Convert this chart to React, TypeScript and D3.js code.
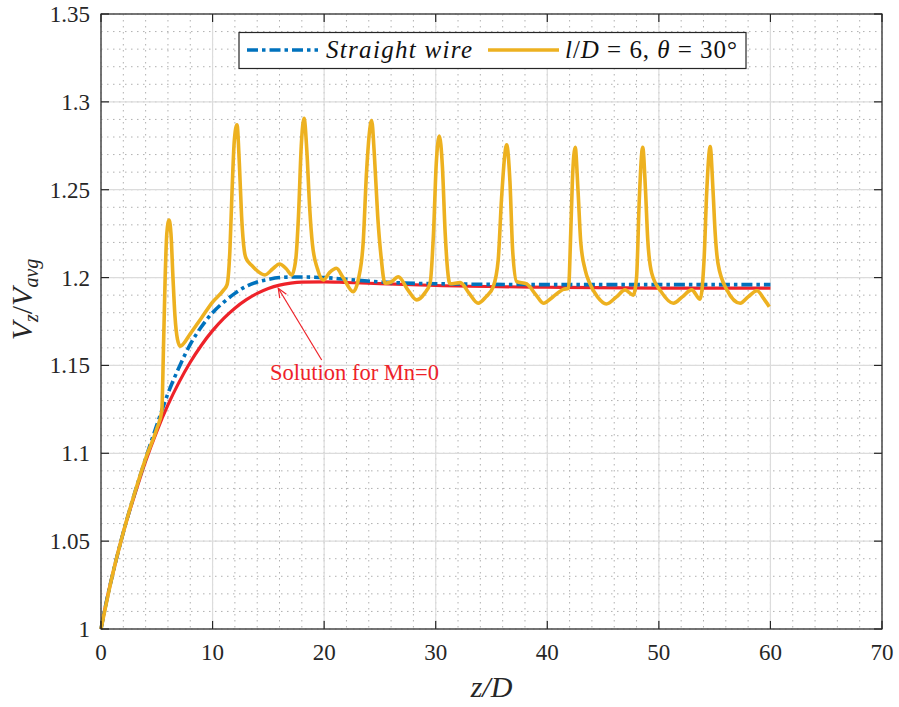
import React from 'react';
import * as d3 from 'd3';

// axis ticks
const xTicks = [0, 10, 20, 30, 40, 50, 60, 70];
const xTickLabels = ['0', '10', '20', '30', '40', '50', '60', '70'];
const yTicks = [1, 1.05, 1.1, 1.15, 1.2, 1.25, 1.3, 1.35];
const yTickLabels = ['1', '1.05', '1.1', '1.15', '1.2', '1.25', '1.3', '1.35'];

// Solution for Mn=0 (red)
const zRed = [0, 0.5, 1, 2, 3, 4, 5, 6, 7, 8, 9, 10, 11, 12, 13, 14, 15, 16, 17, 18, 20, 22, 25, 30, 40, 50, 60];
const vRed = [1.0, 1.016, 1.03, 1.055, 1.076, 1.0955, 1.1125, 1.1275, 1.1405, 1.1518, 1.1615, 1.1698, 1.1768, 1.1826, 1.1873, 1.191, 1.1938, 1.1957, 1.1968, 1.1974, 1.1976, 1.1972, 1.1965, 1.1955, 1.1945, 1.194, 1.194];

// Straight wire (blue dash-dot)
const zBlue = [0, 0.5, 1, 2, 3, 4, 5, 6, 7, 8, 9, 10, 11, 12, 13, 14, 15, 16, 17, 18, 20, 22, 25, 30, 40, 50, 60];
const vBlue = [1.0, 1.016, 1.03, 1.055, 1.077, 1.097, 1.116, 1.134, 1.149, 1.162, 1.172, 1.18, 1.186, 1.191, 1.195, 1.1975, 1.199, 1.2, 1.2003, 1.2003, 1.2, 1.199, 1.1975, 1.1965, 1.196, 1.196, 1.196];

// l/D = 6, theta = 30 deg (gold)
const zGold = [
  0, 1, 2, 3, 4, 5, 5.45, 5.6, 5.75, 5.9, 6.1, 6.27, 6.45, 6.63, 6.85, 7.1, 8, 9, 10, 11,
  11.3, 11.55, 11.75, 11.95, 12.19, 12.4, 12.6, 12.85, 13.0, 13.5, 14.7, 15.4, 16.0, 16.6, 17.1,
  17.45, 17.7, 17.95, 18.2, 18.45, 18.7, 18.95, 19.4, 19.93, 20.5, 21.1, 21.7, 22.6,
  23.1, 23.5, 23.8, 24.26, 24.5, 24.8, 25.1, 25.45, 26.0, 26.65, 27.5, 28.3, 29.0,
  29.5, 29.8, 30.05, 30.33, 30.6, 30.85, 31.28, 32.2, 33.0, 33.8, 34.5, 35.16,
  35.6, 35.9, 36.36, 36.65, 36.9, 37.26, 38.15, 39.0, 39.65, 40.5, 41.44, 41.9,
  42.1, 42.25, 42.5, 42.75, 43.0, 43.4, 43.8, 44.5, 45.3, 46.2, 46.97, 47.7,
  48.0, 48.25, 48.55, 48.8, 49.0, 49.36, 50.2, 51.3, 52.1, 52.94, 53.7,
  54.05, 54.3, 54.6, 54.85, 55.05, 55.3, 56.1, 57.3, 58.0, 58.8, 59.4, 59.9
];
const vGold = [
  1.0, 1.03, 1.055, 1.077, 1.097, 1.114, 1.124, 1.16, 1.2, 1.2252, 1.2328, 1.225, 1.2, 1.178, 1.165, 1.161, 1.168, 1.177, 1.186, 1.193,
  1.196, 1.215, 1.25, 1.278, 1.287, 1.265, 1.235, 1.215, 1.211, 1.207, 1.2015, 1.205, 1.2077, 1.205, 1.2015,
  1.21, 1.235, 1.275, 1.2907, 1.272, 1.24, 1.219, 1.205, 1.1986, 1.203, 1.2053, 1.2, 1.192,
  1.2, 1.22, 1.26, 1.2893, 1.27, 1.235, 1.212, 1.1968, 1.1975, 1.2005, 1.193, 1.1873, 1.191,
  1.197, 1.225, 1.265, 1.2806, 1.263, 1.225, 1.1965, 1.1971, 1.191, 1.1854, 1.189, 1.1949,
  1.21, 1.245, 1.2755, 1.255, 1.215, 1.1977, 1.1964, 1.19, 1.1854, 1.189, 1.1933, 1.1939,
  1.225, 1.255, 1.2742, 1.25, 1.22, 1.2043, 1.1968, 1.189, 1.185, 1.189, 1.193, 1.19,
  1.2, 1.245, 1.2742, 1.25, 1.222, 1.2025, 1.192, 1.1854, 1.189, 1.193, 1.1877,
  1.21, 1.25, 1.2745, 1.25, 1.225, 1.2081, 1.193, 1.1854, 1.189, 1.1925, 1.188, 1.1834
];

// annotation (data units)
const arrowTail = [19.78, 1.1531];
const arrowTip = [15.89, 1.1939];
const noteAt = [15.15, 1.1417];
const noteText = 'Solution for Mn=0';

const W = 899;
const H = 707;
const L = 101, R = 882, T = 14, B = 629;

const BLUE = '#0072BD';
const GOLD = '#EDB120';
const RED = '#EE2229';
const AXIS = '#262626';
const serif = { fontFamily: "'Liberation Serif', 'DejaVu Serif', serif" };

export default function App() {
  const x = d3.scaleLinear().domain([0, 70]).range([L, R]);
  const y = d3.scaleLinear().domain([1, 1.35]).range([B, T]);

  const line = d3.line<[number, number]>()
    .x(d => x(d[0]))
    .y(d => y(d[1]))
    .curve(d3.curveMonotoneX);

  const red = line(zRed.map((z, i) => [z, vRed[i]]));
  const blue = line(zBlue.map((z, i) => [z, vBlue[i]]));
  const gold = line(zGold.map((z, i) => [z, vGold[i]]));

  const xMinor = d3.range(0, 70.01, 2);
  const yMinor = d3.range(1, 1.3501, 0.01);

  const tx = x(arrowTip[0]), ty = y(arrowTip[1]);
  const sx = x(arrowTail[0]), sy = y(arrowTail[1]);
  const ang = Math.atan2(sy - ty, sx - tx);
  const ah = 10, aw = 0.4;
  const head = `M${tx + ah * Math.cos(ang - aw)},${ty + ah * Math.sin(ang - aw)}L${tx},${ty}L${tx + ah * Math.cos(ang + aw)},${ty + ah * Math.sin(ang + aw)}`;

  const tickLen = 8;

  return (
    <svg width={W} height={H} style={{ position: 'absolute', left: 0, top: 0, background: '#fff' }}>
      <rect x={0} y={0} width={W} height={H} fill="#fff" />
      {/* minor grid */}
      <g stroke="#b0b0b0" strokeWidth={1} strokeDasharray="1.5,4.5">
        {xMinor.map(v => (
          <line key={'xm' + v} x1={x(v)} x2={x(v)} y1={T} y2={B} />
        ))}
        {yMinor.map(v => (
          <line key={'ym' + v} x1={L} x2={R} y1={y(v)} y2={y(v)} />
        ))}
      </g>
      {/* major grid */}
      <g stroke="#dcdcdc" strokeWidth={1.2}>
        {xTicks.map(v => (
          <line key={'xg' + v} x1={x(v)} x2={x(v)} y1={T} y2={B} />
        ))}
        {yTicks.map(v => (
          <line key={'yg' + v} x1={L} x2={R} y1={y(v)} y2={y(v)} />
        ))}
      </g>

      {/* curves */}
      <path d={red || ''} fill="none" stroke={RED} strokeWidth={3.2} />
      <path d={blue || ''} fill="none" stroke={BLUE} strokeWidth={3.6} strokeDasharray="11,4,3.5,4" />
      <path d={gold || ''} fill="none" stroke={GOLD} strokeWidth={3.6} strokeLinejoin="round" />

      {/* annotation */}
      <line x1={sx} y1={sy} x2={tx} y2={ty} stroke={RED} strokeWidth={1.2} />
      <path d={head} fill="none" stroke={RED} strokeWidth={1.2} />
      <text x={x(noteAt[0])} y={y(noteAt[1])} fill={RED} style={serif} fontSize={22.5}>{noteText}</text>

      {/* axes box */}
      <rect x={L} y={T} width={R - L} height={B - T} fill="none" stroke={AXIS} strokeWidth={1.2} />
      <g stroke={AXIS} strokeWidth={1.2}>
        {xTicks.map(v => (
          <g key={'xt' + v}>
            <line x1={x(v)} x2={x(v)} y1={B} y2={B - tickLen} />
            <line x1={x(v)} x2={x(v)} y1={T} y2={T + tickLen} />
          </g>
        ))}
        {yTicks.map(v => (
          <g key={'yt' + v}>
            <line x1={L} x2={L + tickLen} y1={y(v)} y2={y(v)} />
            <line x1={R} x2={R - tickLen} y1={y(v)} y2={y(v)} />
          </g>
        ))}
      </g>
      <g style={serif} fontSize={23} fill={AXIS}>
        {xTicks.map((v, i) => (
          <text key={'xl' + v} x={x(v)} y={B + 31} textAnchor="middle">{xTickLabels[i]}</text>
        ))}
        {yTicks.map((v, i) => (
          <text key={'yl' + v} x={L - 11} y={y(v) + 8} textAnchor="end">{yTickLabels[i]}</text>
        ))}
      </g>

      {/* axis labels */}
      <text x={(L + R) / 2} y={697} textAnchor="middle" style={serif} fontSize={30} fontStyle="italic" fill={AXIS}>
        z/D
      </text>
      <text transform={`translate(32,${(T + B) / 2 - 22}) rotate(-90)`} textAnchor="middle" style={serif} fontSize={30} fill={AXIS}>
        <tspan fontStyle="italic">V</tspan>
        <tspan fontStyle="italic" fontSize={20} dy={6}>z</tspan>
        <tspan dy={-6}>/</tspan>
        <tspan fontStyle="italic">V</tspan>
        <tspan fontStyle="italic" fontSize={20} dy={6}>avg</tspan>
      </text>

      {/* legend */}
      <rect x={239} y={32.5} width={507} height={36} fill="#fff" stroke={AXIS} strokeWidth={1.2} />
      <line x1={247} x2={318} y1={50} y2={50} stroke={BLUE} strokeWidth={3.6} strokeDasharray="11,4,3.5,4" />
      <text x={326} y={58} style={serif} fontSize={25} fontStyle="italic" fill="#111" textLength={146} lengthAdjust="spacing">
        Straight wire
      </text>
      <line x1={488} x2={559} y1={50} y2={50} stroke={GOLD} strokeWidth={3.6} />
      <text x={565} y={58} style={serif} fontSize={25} fill="#111" textLength={172} lengthAdjust="spacing">
        <tspan fontStyle="italic">l</tspan>
        <tspan>/</tspan>
        <tspan fontStyle="italic">D</tspan>
        <tspan> = 6, </tspan>
        <tspan fontStyle="italic">θ</tspan>
        <tspan> = 30°</tspan>
      </text>
    </svg>
  );
}
